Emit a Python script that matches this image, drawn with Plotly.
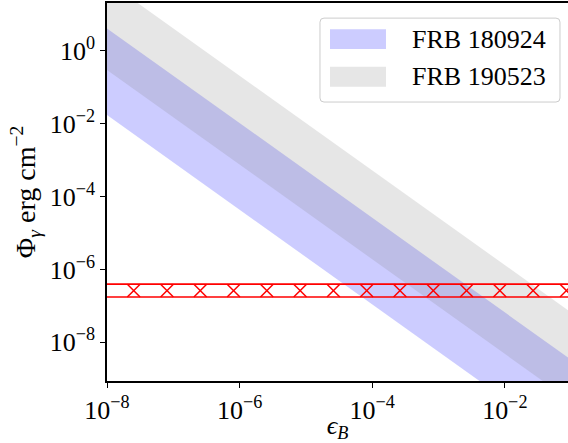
import numpy as np
import plotly.graph_objects as go

# ---- data ----
eps_B = [1e-8, 1e-1]
frb180924_low = [1.74e-2, 1.38e-11]
frb180924_high = [4.17e0, 3.31e-9]
frb190523_low = [3.02e-1, 2.40e-10]
frb190523_high = [8.32e1, 6.61e-8]
gamma_limit_low = [1.75e-7, 1.75e-7]
gamma_limit_high = [3.94e-7, 3.94e-7]
legend_names = ["FRB 180924", "FRB 190523"]
band_colors = ["rgba(0,0,255,0.2)", "rgba(128,128,128,0.2)"]
x_tickvals = [1e-8, 1e-6, 1e-4, 1e-2]
x_ticktext = ["10<sup>−8</sup>", "10<sup>−6</sup>", "10<sup>−4</sup>", "10<sup>−2</sup>"]
y_tickvals = [1e-8, 1e-6, 1e-4, 1e-2, 1e0]
y_ticktext = ["10<sup>−8</sup>", "10<sup>−6</sup>", "10<sup>−4</sup>", "10<sup>−2</sup>", "10<sup>0</sup>"]

FONT = "Liberation Serif, DejaVu Serif, serif"

fig = go.Figure()
for name, lo, hi, col in zip(legend_names, [frb180924_low, frb190523_low],
                             [frb180924_high, frb190523_high], band_colors):
    fig.add_trace(go.Scatter(
        x=eps_B + eps_B[::-1], y=lo + hi[::-1], fill="toself", fillcolor=col,
        mode="lines", line=dict(width=0), name=name, showlegend=False,
        hoverinfo="skip"))

# red hatched constraint band
for yv in (gamma_limit_low, gamma_limit_high):
    fig.add_trace(go.Scatter(x=eps_B, y=yv, mode="lines",
                             line=dict(color="red", width=1.6),
                             showlegend=False, hoverinfo="skip"))

hw = 0.0965          # half width of one hatch cross (decades)
step = 0.502         # hatch spacing (decades)
hx, hy = [], []
for c in np.arange(-8.099, np.log10(eps_B[1]) + step, step):
    hx += [10 ** (c - hw), 10 ** (c + hw), None, 10 ** (c - hw), 10 ** (c + hw), None]
    hy += [gamma_limit_high[0], gamma_limit_low[0], None,
           gamma_limit_low[0], gamma_limit_high[0], None]
fig.add_trace(go.Scatter(x=hx, y=hy, mode="lines", line=dict(color="red", width=1.5),
                         showlegend=False, hoverinfo="skip", connectgaps=False))

# ---- manual legend ----
x0, x1, y0, y1 = 0.462, 0.9826, 0.738, 0.960
rx, ry = 4 / 461, 4 / 378
path = (f"M {x0+rx},{y0} L {x1-rx},{y0} Q {x1},{y0} {x1},{y0+ry} L {x1},{y1-ry} "
        f"Q {x1},{y1} {x1-rx},{y1} L {x0+rx},{y1} Q {x0},{y1} {x0},{y1-ry} "
        f"L {x0},{y0+ry} Q {x0},{y0} {x0+rx},{y0} Z")
shapes = [dict(type="path", xref="paper", yref="paper", path=path,
               fillcolor="white", line=dict(color="#cccccc", width=1))]
patch_y = [(0.878, 0.9304), (0.7786, 0.8315)]
annotations = []
for name, col, (py0, py1) in zip(legend_names, band_colors, patch_y):
    shapes.append(dict(type="rect", xref="paper", yref="paper", x0=0.4837, x1=0.6052,
                       y0=py0, y1=py1, fillcolor=col, line=dict(width=0)))
    annotations.append(dict(xref="paper", yref="paper", x=0.657, y=(py0 + py1) / 2,
                            xanchor="left", yanchor="middle", text=name, showarrow=False,
                            font=dict(family=FONT, size=26, color="black")))

axis_common = dict(type="log", showgrid=False, zeroline=False, showline=True,
                   linecolor="black", linewidth=1.5, ticks="outside", ticklen=5,
                   tickwidth=1, tickcolor="black", automargin=False,
                   tickfont=dict(family=FONT, size=26, color="black"))

fig.update_layout(
    width=568, height=443,
    margin=dict(l=107, r=0, t=3, b=62),
    plot_bgcolor="white", paper_bgcolor="white",
    xaxis=dict(axis_common, range=[-8, -1.047], mirror=True,
               tickvals=x_tickvals, ticktext=x_ticktext,
               title=dict(text="<i>ϵ</i><sub><i>B</i></sub>", standoff=2,
                          font=dict(family=FONT, size=26, color="black"))),
    yaxis=dict(axis_common, range=[-9.064, 1.318], mirror=False,
               tickvals=y_tickvals, ticktext=y_ticktext,
               title=dict(text="Φ<sub><i>γ</i></sub> erg cm<sup>−2</sup>", standoff=6,
                          font=dict(family=FONT, size=28, color="black"))),
    shapes=shapes, annotations=annotations, showlegend=False,
)

fig.write_html("out.html", config={"displayModeBar": False},
               post_script="document.body.style.margin='0';document.body.style.overflow='hidden';")
